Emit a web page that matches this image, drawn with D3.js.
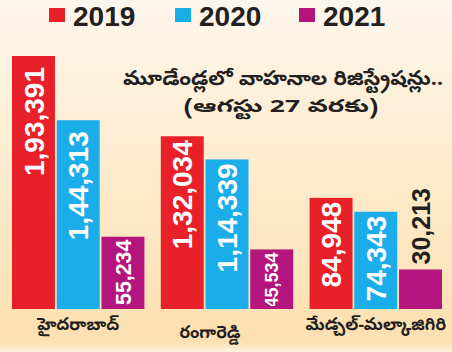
<!DOCTYPE html>
<html>
<head>
<meta charset="utf-8">
<script src="https://cdn.jsdelivr.net/npm/d3@7"></script>
<style>
  body { margin: 0; background: #fff; }
  svg { display: block; }
</style>
</head>
<body>
<svg id="chart_svg" width="452" height="352"></svg>
<script>
// data
var districts = ["హైదరాబాద్", "రంగారెడ్డి", "మేడ్చల్-మల్కాజిగిరి"];
var years = ["2019", "2020", "2021"];
var values2019 = [193391, 132034, 84948];
var values2020 = [144313, 114339, 74343];
var values2021 = [55234, 45534, 30213];
var valueLabels2019 = ["1,93,391", "1,32,034", "84,948"];
var valueLabels2020 = ["1,44,313", "1,14,339", "74,343"];
var valueLabels2021 = ["55,234", "45,534", "30,213"];
var yearColors = ["#e8202a", "#1badea", "#b3147e"];
var titleLines = ["మూడేండ్లలో వాహనాల రిజిస్ట్రేషన్లు..", "(ఆగస్టు 27 వరకు)"];

function drawChart() {
    var svg = d3.select("#chart_svg");
    var width = 452, height = 352;
    var baseY = 309;

    // background gradient
    var defs = svg.append("defs");
    var grad = defs.append("linearGradient").attr("id", "bgGrad")
        .attr("x1", 0).attr("y1", 0).attr("x2", 0).attr("y2", 1);
    grad.append("stop").attr("offset", "0%").attr("stop-color", "#fdf6ec");
    grad.append("stop").attr("offset", "45%").attr("stop-color", "#fdeccf");
    grad.append("stop").attr("offset", "97%").attr("stop-color", "#fde0b0");
    grad.append("stop").attr("offset", "100%").attr("stop-color", "#fdf1de");
    svg.append("rect").attr("width", width).attr("height", height).attr("fill", "url(#bgGrad)");

    // labels get cut just above the bar bottom
    defs.append("clipPath").attr("id", "labelClip")
        .append("rect").attr("x", 0).attr("y", 0).attr("width", width).attr("height", baseY - 3);

    var allValues = [values2019, values2020, values2021];
    var allLabels = [valueLabels2019, valueLabels2020, valueLabels2021];

    var rows = [];
    districts.forEach(function(d, i) {
        years.forEach(function(y, j) {
            rows.push({ district: d, year: y, value: allValues[j][i], label: allLabels[j][i], color: yearColors[j] });
        });
    });

    var x0 = d3.scaleBand().domain(districts).range([12, 442]).paddingInner(0.11);
    var x1 = d3.scaleBand().domain(years).range([0, x0.bandwidth()]).paddingInner(0.04);
    var yScale = d3.scaleLinear().domain([0, 193391]).range([baseY, 56]);

    var g = svg.append("g");

    g.selectAll("rect.bar")
        .data(rows)
        .enter()
        .append("rect")
        .attr("class", "bar")
        .attr("x", d => x0(d.district) + x1(d.year))
        .attr("y", d => yScale(d.value))
        .attr("width", x1.bandwidth())
        .attr("height", d => baseY - yScale(d.value))
        .attr("fill", d => d.color);

    // value labels (rotated)
    var barH = d => baseY - yScale(d.value);
    var isShort = d => barH(d) < 50;
    var topPad = function(d) {
        var h = barH(d);
        if (h < 80) return 3;
        if (h < 180) return 4;
        return 11;
    };
    var labels = g.append("g").attr("clip-path", "url(#labelClip)")
        .selectAll("text.val")
        .data(rows)
        .enter()
        .append("text")
        .attr("class", "val")
        .attr("text-anchor", d => isShort(d) ? "start" : "end")
        .style("font-family", "'Liberation Sans', Arial, sans-serif")
        .style("font-weight", "bold")
        .style("font-size", d => isShort(d) ? "25px" : "28px")
        .style("fill", d => isShort(d) ? "#231f20" : "#ffffff")
        .text(d => d.label);

    // shrink the labels that do not fit inside their bar
    labels.each(function(d) {
        if (isShort(d)) return;
        var len = this.getComputedTextLength();
        var avail = barH(d) - topPad(d) - 4;
        if (len > avail) {
            d3.select(this).style("font-size", Math.max(18, 28 * avail / len) + "px");
        }
    });

    labels.attr("transform", function(d) {
        var cx = x0(d.district) + x1(d.year) + x1.bandwidth() / 2;
        var top = yScale(d.value);
        var fs = parseFloat(d3.select(this).style("font-size"));
        var ty = isShort(d) ? top - 5 : top + topPad(d);
        return `translate(${cx + fs * 0.36}, ${ty}) rotate(-90)`;
    });

    // category labels
    var catDx = [0, -17, 0], catDy = [0, 8, 0];
    g.selectAll("text.cat")
        .data(districts)
        .enter()
        .append("text")
        .attr("class", "cat")
        .attr("x", (d, i) => x0(d) + x0.bandwidth() / 2 + catDx[i])
        .attr("y", (d, i) => 330 + catDy[i])
        .attr("text-anchor", "middle")
        .style("font-family", "'Noto Sans Telugu', 'Noto Sans', sans-serif")
        .style("font-size", "17px")
        .style("font-weight", "bold")
        .style("fill", "#231f20")
        .text(d => d);

    // legend
    var legendX = [49, 175, 299];
    var legend = svg.append("g");
    years.forEach(function(y, j) {
        legend.append("rect")
            .attr("x", legendX[j]).attr("y", 8)
            .attr("width", 16).attr("height", 14)
            .attr("fill", yearColors[j]);
        legend.append("text")
            .attr("x", legendX[j] + 24).attr("y", 26)
            .style("font-family", "'Liberation Sans', Arial, sans-serif")
            .style("font-weight", "bold")
            .style("font-size", "28px")
            .style("fill", "#231f20")
            .text(y);
    });

    // title
    svg.append("text")
        .attr("x", 283).attr("y", 85)
        .attr("text-anchor", "middle")
        .attr("textLength", 320)
        .attr("lengthAdjust", "spacingAndGlyphs")
        .style("font-family", "'Noto Sans Telugu', 'Noto Sans', sans-serif")
        .style("font-size", "20px")
        .style("font-weight", "bold")
        .style("fill", "#231f20")
        .text(titleLines[0]);
    svg.append("text")
        .attr("x", 281).attr("y", 112)
        .attr("text-anchor", "middle")
        .attr("textLength", 195)
        .attr("lengthAdjust", "spacingAndGlyphs")
        .style("font-family", "'Noto Sans Telugu', 'Noto Sans', sans-serif")
        .style("font-size", "18px")
        .style("font-weight", "bold")
        .style("fill", "#231f20")
        .text(titleLines[1]);
}

drawChart();
</script>
</body>
</html>
